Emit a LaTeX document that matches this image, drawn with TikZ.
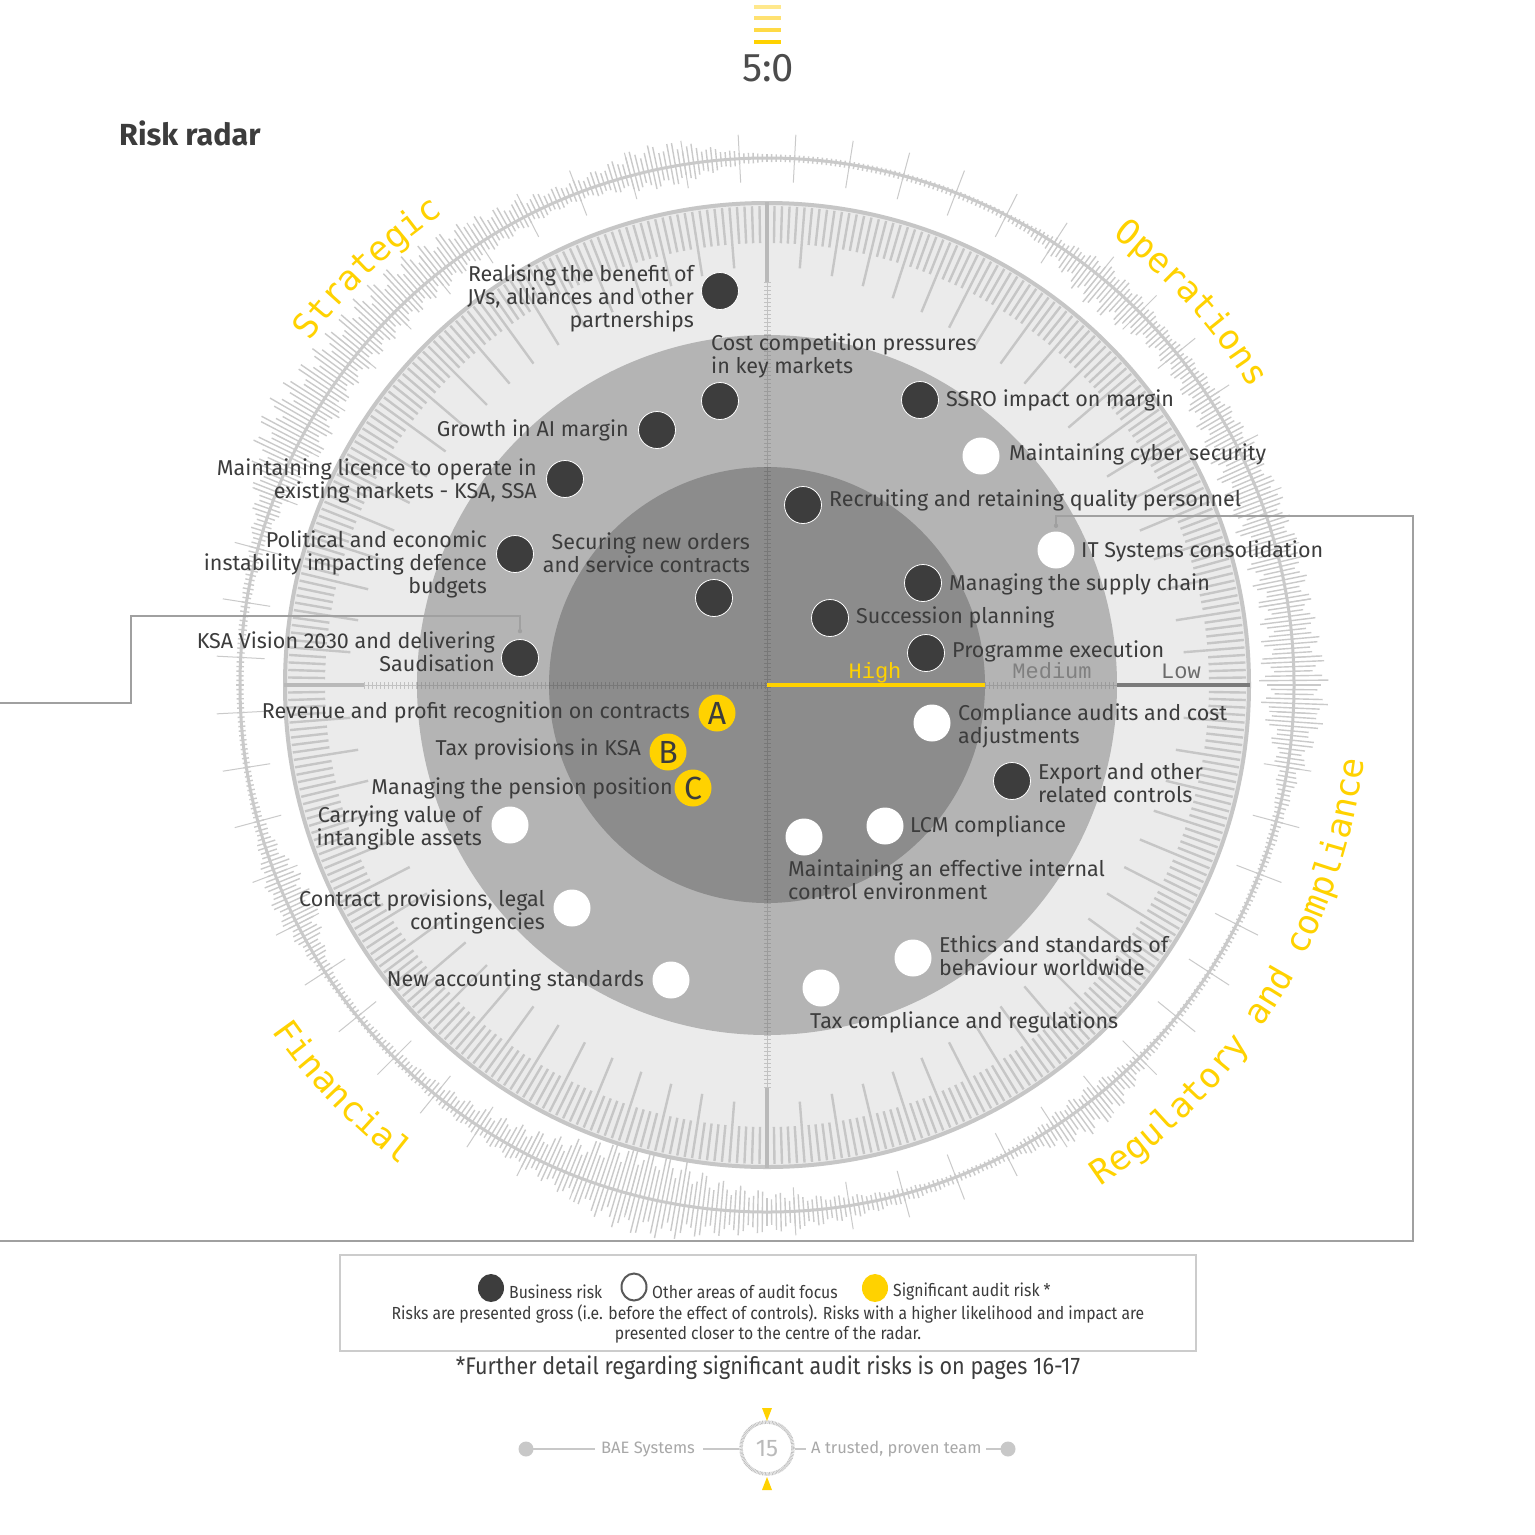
\documentclass[tikz,border=0pt]{standalone}
\usepackage{fontspec}
\setmainfont{Fira Sans}
\newfontfamily\arcfont{DejaVu Sans Mono}
\newfontfamily\scalefont{Liberation Mono}
\newfontfamily\condfont{Fira Sans}[FakeStretch=0.9]
\usetikzlibrary{calc}
\definecolor{txt}{HTML}{3C3C3C}
\definecolor{ey}{HTML}{FFD200}
\definecolor{ringbg}{HTML}{EBEBEB}
\definecolor{midbg}{HTML}{B4B4B4}
\definecolor{innbg}{HTML}{8C8C8C}
\definecolor{tickc}{HTML}{C6C6C6}
\definecolor{dotc}{HTML}{3D3D3D}
\definecolor{decoc}{HTML}{CACACA}
\definecolor{axc}{HTML}{B9B9B9}
\definecolor{rlight}{HTML}{C2C2C2}
\definecolor{rmid}{HTML}{9C9C9C}
\definecolor{rinn}{HTML}{787878}
\definecolor{lowc}{HTML}{7A7A7A}
\definecolor{connc}{HTML}{A0A0A0}
\definecolor{footc}{HTML}{A8A8A8}
\definecolor{footl}{HTML}{C8C8C8}
\definecolor{bar1}{HTML}{FFE88C}
\definecolor{bar2}{HTML}{FFE170}
\definecolor{bar3}{HTML}{FFDA45}
\definecolor{bar4}{HTML}{FFD200}
\tikzset{
  ringtick/.style={line width=2.4pt, color=tickc},
  decotick/.style={line width=1.4pt, color=decoc},
  thickax/.style={line width=4.5pt, color=axc},
  rl/.style={line width=1pt},
  rt/.style={line width=7pt, dash pattern=on 1pt off 3pt},
  arct/.style={font=\arcfont\fontsize{34.5}{34.5}\selectfont, text=ey, anchor=base, inner sep=0pt},
  scalet/.style={font=\scalefont\fontsize{22}{22}\selectfont, anchor=base, inner sep=0pt},
  lab/.style={font=\fontsize{21.5}{23}\selectfont, text=txt, inner sep=0pt},
  labr/.style={lab, anchor=east, align=right},
  labl/.style={lab, anchor=west, align=left},
  bd/.style={circle, fill=dotc, draw=white, line width=0.8pt, minimum size=37pt, inner sep=0pt},
  wd/.style={circle, fill=white, minimum size=37pt, inner sep=0pt},
  yd/.style={circle, fill=ey, minimum size=37pt, inner sep=0pt, font=\fontsize{32}{32}\selectfont, text=txt},
  conn/.style={line width=1.5pt, color=connc},
  legt/.style={font=\condfont\fontsize{17.5}{20}\selectfont, text=txt, inner sep=0pt},
  foott/.style={font=\fontsize{16.5}{16.5}\selectfont, text=footc, inner sep=0pt},
  footline/.style={line width=2pt, color=footl},
}
\newcommand\myruler[3]{\draw[rl,#1] #2 -- #3; \draw[rt,#1] #2 -- #3;}
\begin{document}
\begin{tikzpicture}[x=1pt,y=-1pt]
\useasboundingbox (0,0) rectangle (1535,1535);
\fill[white] (0,0) rectangle (1535,1535);

% header
\draw[line width=3.5pt, bar1] (754,7) -- (781,7);
\draw[line width=3.5pt, bar2] (754,18) -- (781,18);
\draw[line width=3.5pt, bar3] (754,30) -- (781,30);
\draw[line width=3.5pt, bar4] (754,42) -- (781,42);
\node[font=\fontsize{40}{40}\selectfont, text=black!70, inner sep=0pt] (score) at (768,68) {5:0};
\node[anchor=west, font=\bfseries\fontsize{30.5}{30.5}\selectfont, text=txt, inner sep=0pt] (title) at (119,133) {Risk radar};

% outer decorative ring
\draw[line width=3pt, decoc] (767,685) circle[radius=527];
\foreach \i in {0,...,719}{
  \pgfmathsetmacro\a{\i*0.5}
  \pgfmathsetmacro\e{0.85*((1+sin(3*\a+40))/2)^3 + 0.6*((1+sin(7*\a+100))/2)^6}
  \pgfmathsetmacro\h{3.5+30*\e*(0.75+0.25*sin(mod(\i,13)*83))}
  \pgfmathsetmacro\ri{527-\h*(1+0.35*sin(2*\a))}
  \pgfmathsetmacro\ro{527+\h*(1-0.35*sin(2*\a))}
  \draw[decotick] ({767+\ri*cos(\a)},{685-\ri*sin(\a)}) -- ({767+\ro*cos(\a)},{685-\ro*sin(\a)});
}
\foreach \a in {3,9,...,357}{
  \draw[line width=1pt, decoc] ({767+503*cos(\a)},{685-503*sin(\a)}) -- ({767+551*cos(\a)},{685-551*sin(\a)});
}

% main disc
\fill[ringbg] (767,685) circle[radius=483];
\draw[line width=4pt, color=tickc] (767,685) circle[radius=482];
\foreach \i in {0,...,399}{
  \pgfmathsetmacro\a{\i*0.9}
  \pgfmathsetmacro\L{ifthenelse(mod(\i,5)==0, 56+26*abs(sin(2*\a)), 36)}
  \pgfmathsetmacro\rr{478-\L}
  \draw[ringtick] ({767+479*cos(\a)},{685-479*sin(\a)}) -- ({767+\rr*cos(\a)},{685-\rr*sin(\a)});
}
\fill[midbg] (767,685) circle[radius=350];
\fill[innbg] (767,685) circle[radius=218];

% axes
\draw[thickax] (767,202) -- (767,282);
\draw[thickax] (767,1088) -- (767,1168);
\draw[thickax] (284,685) -- (364,685);
\myruler{rlight}{(767,282)}{(767,335)}
\myruler{rmid}{(767,335)}{(767,467)}
\myruler{rinn}{(767,467)}{(767,903)}
\myruler{rmid}{(767,903)}{(767,1035)}
\myruler{rlight}{(767,1035)}{(767,1088)}
\myruler{rlight}{(364,685)}{(417,685)}
\myruler{rmid}{(417,685)}{(549,685)}
\myruler{rinn}{(549,685)}{(767,685)}
\myruler{rmid}{(985,685)}{(1117,685)}
\draw[line width=4pt, ey] (767,685) -- (985,685);
\draw[line width=4.5pt, lowc] (1117,685) -- (1250,685);
\node[scalet, text=ey] (sHigh) at (875,678) {High};
\node[scalet, text=black!50] (sMed) at (1052,678) {Medium};
\node[scalet, text=black!58] (sLow) at (1181,678) {Low};

% category arc texts
\foreach \ch [count=\i from 0] in {S,t,r,a,t,e,g,i,c}{
  \pgfmathsetmacro\ang{133.8+(4-\i)*2.074}
  \pgfmathsetmacro\rot{\ang-90}
  \node[arct, rotate=\rot] (sg\i) at ({767+572*cos(\ang)},{685-572*sin(\ang)}) {\ch};
}
\foreach \ch [count=\i from 0] in {O,p,e,r,a,t,i,o,n,s}{
  \pgfmathsetmacro\ang{41.95+(4.5-\i)*2.09}
  \pgfmathsetmacro\rot{\ang-90}
  \node[arct, rotate=\rot] (op\i) at ({767+567*cos(\ang)},{685-567*sin(\ang)}) {\ch};
}
\foreach \ch [count=\i from 0] in {R,e,g,u,l,a,t,o,r,y,{},a,n,d,{},c,o,m,p,l,i,a,n,c,e}{
  \pgfmathsetmacro\ang{-31.75-(12-\i)*1.97}
  \pgfmathsetmacro\rot{\ang+90}
  \node[arct, rotate=\rot] (rc\i) at ({767+602*cos(\ang)},{685-602*sin(\ang)}) {\ch};
}
\foreach \ch [count=\i from 0] in {F,i,n,a,n,c,i,a,l}{
  \pgfmathsetmacro\ang{223.8-(4-\i)*1.964}
  \pgfmathsetmacro\rot{\ang+90}
  \node[arct, rotate=\rot] (fi\i) at ({767+604*cos(\ang)},{685-604*sin(\ang)}) {\ch};
}

% dots
\node[bd] (dJV) at (720,291) {};
\node[bd] (dCost) at (720,401) {};
\node[bd] (dAI) at (657,430) {};
\node[bd] (dLic) at (565,479) {};
\node[bd] (dPol) at (515,554) {};
\node[bd] (dSec) at (714,598) {};
\node[bd] (dKSA) at (520,658) {};
\node[bd] (dSSRO) at (920,400) {};
\node[bd] (dRec) at (803,505) {};
\node[bd] (dSup) at (923,583) {};
\node[bd] (dSuc) at (830,618) {};
\node[bd] (dProg) at (926,653) {};
\node[bd] (dExp) at (1012,781) {};
\node[wd] (dCyb) at (981,456) {};
\node[wd] (dIT) at (1056,550) {};
\node[wd] (dComp) at (932,723) {};
\node[wd] (dLCM) at (885,826) {};
\node[wd] (dEff) at (804,837) {};
\node[wd] (dCarry) at (510,825) {};
\node[wd] (dProv) at (572,908) {};
\node[wd] (dNew) at (671,980) {};
\node[wd] (dEth) at (913,958) {};
\node[wd] (dTax) at (821,988) {};
\node[yd] (dA) at (717,713) {A};
\node[yd] (dB) at (668,752) {B};
\node[yd] (dC) at (693,788) {C};

% connectors
\coordinate (cL) at (0,703);
\coordinate (cB) at (0,1241);
\draw[conn] (cL) -- (131,703) |- ($(dKSA.north)+(0,-23)$) -- ($(dKSA.north)+(0,-8)$);
\fill[connc] ($(dKSA.north)+(0,-8)$) circle[radius=2.2];
\draw[conn] (cB) -- (1413,1241) |- ($(dIT.north)+(0,-15.5)$) -- ($(dIT.north)+(0,-5.5)$);
\fill[connc] ($(dIT.north)+(0,-5.5)$) circle[radius=2.2];

% labels
\node[labr] (tJV) at (694,298) {Realising the benefit of\\JVs, alliances and other\\partnerships};
\node[labr] (tAI) at (629,430) {Growth in AI margin};
\node[labr] (tLic) at (537,481) {Maintaining licence to operate in\\existing markets - KSA, SSA};
\node[labr] (tPol) at (487,564) {Political and economic\\instability impacting defence\\budgets};
\node[labr] (tSec) at (750,553) {Securing new orders\\and service contracts};
\node[labr] (tKSA) at (495,652) {KSA Vision 2030 and delivering\\Saudisation};
\node[labr] (tA) at (690,712) {Revenue and profit recognition on contracts};
\node[labr] (tB) at (641,749) {Tax provisions in KSA};
\node[labr] (tC) at (673,788) {Managing the pension position};
\node[labr] (tCarry) at (482,828) {Carrying value of\\intangible assets};
\node[labr] (tProv) at (545,912) {Contract provisions, legal\\contingencies};
\node[labr] (tNew) at (644,980) {New accounting standards};
\node[labl] (tCost) at (711,356) {Cost competition pressures\\in key markets};
\node[labl] (tSSRO) at (946,400) {SSRO impact on margin};
\node[labl] (tCyb) at (1009,454) {Maintaining cyber security};
\node[labl] (tRec) at (829,500) {Recruiting and retaining quality personnel};
\node[labl] (tIT) at (1081,551) {IT Systems consolidation};
\node[labl] (tSup) at (949,584) {Managing the supply chain};
\node[labl] (tSuc) at (856,617) {Succession planning};
\node[labl] (tProg) at (952,651) {Programme execution};
\node[labl] (tComp) at (958,726) {Compliance audits and cost\\adjustments};
\node[labl] (tExp) at (1038,783) {Export and other\\related controls};
\node[labl] (tLCM) at (910,826) {LCM compliance};
\node[labl] (tEff) at (788,880) {Maintaining an effective internal\\control environment};
\node[labl] (tEth) at (939,956) {Ethics and standards of\\behaviour worldwide};
\node[labl] (tTax) at (810,1022) {Tax compliance and regulations};

% legend
\draw[line width=1.5pt, color=black!20] (340,1255) rectangle (1196,1351);
\fill[dotc] (491,1288) ellipse[x radius=13, y radius=14];
\draw[line width=2pt, color=black!65] (634,1287) ellipse[x radius=12.5, y radius=13.5];
\fill[ey] (875,1288) ellipse[x radius=13, y radius=14];
\node[legt, anchor=west] (lg1) at (509,1292) {Business risk};
\node[legt, anchor=west] (lg2) at (652,1292) {Other areas of audit focus};
\node[legt, anchor=west] (lg3) at (893,1292) {Significant audit risk *};
\node[legt, align=center] (lg4) at (768,1324) {Risks are presented gross (i.e. before the effect of controls). Risks with a higher likelihood and impact are\\presented closer to the centre of the radar.};
\node[font=\condfont\fontsize{24}{24}\selectfont, text=txt, inner sep=0pt] (note) at (768,1368) {*Further detail regarding significant audit risks is on pages 16-17};

% footer
\fill[footl] (526,1449) circle[radius=7.5];
\fill[footl] (1008,1449) circle[radius=7.5];
\draw[footline] (533,1449) -- (595,1449);
\draw[footline] (703,1449) -- (739,1449);
\draw[footline] (795,1449) -- (806,1449);
\draw[footline] (986,1449) -- (1001,1449);
\node[foott, anchor=west] (fBAE) at (601,1449) {BAE Systems};
\node[foott, anchor=west] (fTeam) at (811,1449) {A trusted, proven team};
\draw[line width=3.5pt, color=black!25, dash pattern=on 0.7pt off 0.7pt] (767,1448) circle[radius=26];
\node[font=\fontsize{24}{24}\selectfont, text=black!27, inner sep=0pt] (fNum) at (767,1449) {15};
\fill[ey] (762,1408) -- (772,1408) -- (767,1421) -- cycle;
\fill[ey] (762,1490) -- (772,1490) -- (767,1477) -- cycle;
\end{tikzpicture}
\end{document}
